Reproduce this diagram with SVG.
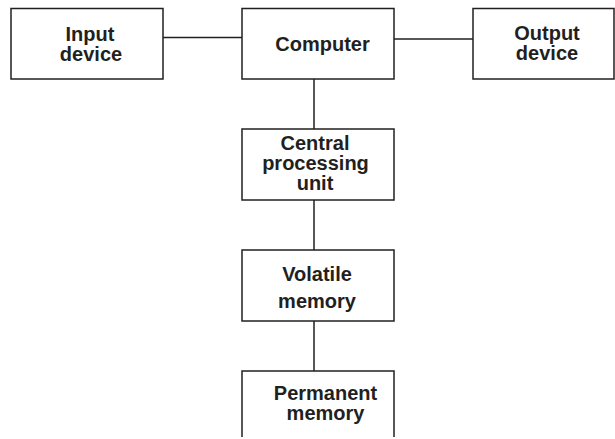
<svg xmlns="http://www.w3.org/2000/svg" width="615" height="439" viewBox="0 0 615 439">
<style>
.box{fill:#fff;stroke:#231f20;stroke-width:1.5}
.ln{fill:none;stroke:#231f20;stroke-width:1.5}
text{font-family:"Liberation Sans",Arial,Helvetica,sans-serif;font-weight:bold;font-size:20px;fill:#231f20;text-anchor:middle}
</style>
<rect width="615" height="439" fill="#fff"/>
<g id="connectors">
<line class="ln" x1="163" y1="37.5" x2="242" y2="37.5"/>
<line class="ln" x1="394" y1="39" x2="473" y2="39"/>
<line class="ln" x1="314" y1="79" x2="314" y2="129"/>
<line class="ln" x1="314" y1="200" x2="314" y2="250"/>
<line class="ln" x1="314" y1="321" x2="314" y2="371"/>
</g>
<g id="input">
<rect class="box" x="11" y="8.5" width="152" height="70.5"/>
<text x="90" y="40.5">Input</text>
<text x="91" y="60.5">device</text>
</g>
<g id="computer">
<rect class="box" x="242" y="8.5" width="152" height="70.5"/>
<text x="322.5" y="51">Computer</text>
</g>
<g id="output">
<rect class="box" x="473" y="8.5" width="141" height="70.5"/>
<text x="547" y="40">Output</text>
<text x="547" y="60">device</text>
</g>
<g id="cpu">
<rect class="box" x="242" y="129" width="152" height="71"/>
<text x="315" y="150">Central</text>
<text x="315.5" y="170">processing</text>
<text x="315" y="190">unit</text>
</g>
<g id="volatile">
<rect class="box" x="242" y="250" width="152" height="71"/>
<text x="317" y="281">Volatile</text>
<text x="317" y="308">memory</text>
</g>
<g id="permanent">
<path class="box" d="M242 437 V371 H394 V437"/>
<text x="325.5" y="399.5">Permanent</text>
<text x="325.5" y="419.5">memory</text>
</g>
</svg>
